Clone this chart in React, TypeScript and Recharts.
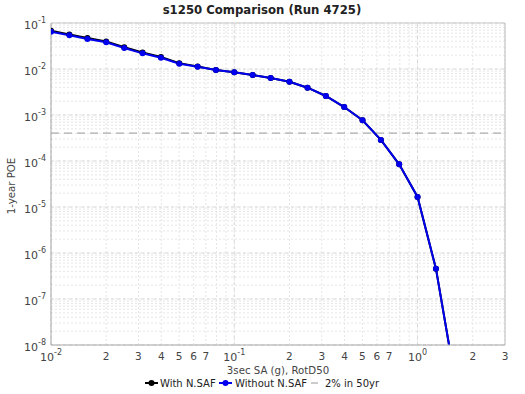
import React from 'react'
import { LineChart, Line, XAxis, YAxis, CartesianGrid, ReferenceLine } from 'recharts'

// 3sec SA (g) hazard curve abscissae
const saLevels = [
  0.01, 0.0126, 0.0158, 0.02, 0.0251, 0.0316, 0.0398, 0.0501, 0.0631, 0.0794,
  0.1, 0.126, 0.158, 0.2, 0.251, 0.316, 0.398, 0.501, 0.631, 0.794,
  1.0, 1.26, 1.58,
]

const withNsaf = [
  0.0675, 0.0565, 0.047, 0.0398, 0.0298, 0.0228, 0.0182, 0.0134, 0.0113, 0.0095,
  0.00848, 0.0074, 0.00637, 0.0053, 0.00392, 0.00259, 0.00149, 7.67e-4, 2.87e-4, 8.48e-5,
  1.65e-5, 4.56e-7, 2.4e-9,
]

const withoutNsaf = [
  0.0648, 0.054, 0.0449, 0.038, 0.0286, 0.0219, 0.0176, 0.013, 0.0112, 0.0095,
  0.00848, 0.0074, 0.00637, 0.0053, 0.00392, 0.00259, 0.00149, 7.67e-4, 2.87e-4, 8.48e-5,
  1.65e-5, 4.56e-7, 2.4e-9,
]

// 2% in 50yr POE level
const twoIn50 = 4.04e-4

const xTicks = [
  0.01, 0.02, 0.03, 0.04, 0.05, 0.06, 0.07, 0.08, 0.09,
  0.1, 0.2, 0.3, 0.4, 0.5, 0.6, 0.7, 0.8, 0.9,
  1, 2, 3,
]
const xDomain = [0.01, 3]
const yExponents = [-8, -7, -6, -5, -4, -3, -2, -1]
const yMultipliers = [1, 2, 3, 4, 5, 6, 7, 8, 9]

const yTicks: number[] = []
yExponents.forEach((e) => {
  if (e === -1) {
    yTicks.push(Math.pow(10, e))
    return
  }
  yMultipliers.forEach((m) => yTicks.push(m * Math.pow(10, e)))
})

const withData = saLevels.map((x, i) => ({ x, y: withNsaf[i] }))
const withoutData = saLevels.map((x, i) => ({ x, y: withoutNsaf[i] }))
const refData = xDomain.map((x) => ({ x, y: twoIn50 }))

const FONT = '"DejaVu Sans", Verdana, sans-serif'
const TICK_COLOR = '#444'

function decadeOf(v: number) {
  const e = Math.log10(v)
  const r = Math.round(e)
  return Math.abs(e - r) < 1e-6 ? r : null
}

function XTick(props: any) {
  const { x, y, payload } = props
  const v = payload.value
  const d = decadeOf(v)
  if (d !== null) {
    return (
      <text x={x} y={y + 16} textAnchor="middle" fontFamily={FONT} fontSize={11} fill={TICK_COLOR}>
        <tspan>10</tspan>
        <tspan dy={-6} fontSize={8}>{d}</tspan>
      </text>
    )
  }
  const m = Math.round(v / Math.pow(10, Math.floor(Math.log10(v) + 1e-9)))
  if (m > 7) return <g />
  return (
    <text x={x} y={y + 15} textAnchor="middle" fontFamily={FONT} fontSize={10.5} fill={TICK_COLOR}>
      {m}
    </text>
  )
}

function YTick(props: any) {
  const { x, y, payload } = props
  const d = decadeOf(payload.value)
  if (d === null) return <g />
  return (
    <text x={x - 5} y={y + 6} textAnchor="end" fontFamily={FONT} fontSize={11} fill={TICK_COLOR}>
      <tspan>10</tspan>
      <tspan dy={-6} fontSize={8}>{d}</tspan>
    </text>
  )
}

export default function App() {
  return (
    <div style={{ position: 'absolute', left: 0, top: 0, width: 525, height: 394, background: '#fff' }}>
      <LineChart width={525} height={394} margin={{ top: 23, right: 20, bottom: 19, left: 0 }}>
        <CartesianGrid stroke="#e6e6e6" strokeDasharray="2 2" />
        <XAxis
          dataKey="x"
          type="number"
          scale="log"
          domain={xDomain}
          ticks={xTicks}
          interval={0}
          allowDataOverflow
          tickLine={false}
          tickSize={0}
          tickMargin={0}
          height={30}
          tick={<XTick />}
          stroke="#aaa"
        />
        <YAxis
          dataKey="y"
          type="number"
          scale="log"
          domain={[1e-8, 1e-1]}
          ticks={yTicks}
          interval={0}
          allowDataOverflow
          tickLine={false}
          tickSize={0}
          tickMargin={0}
          width={51}
          tick={<YTick />}
          stroke="#aaa"
        />
        {[0.01, 0.1, 1].map((v) => (
          <ReferenceLine key={'vx' + v} x={v} stroke="#dadada" strokeDasharray="3 3" />
        ))}
        {yTicks.filter((v) => decadeOf(v) !== null).map((v) => (
          <ReferenceLine key={'hy' + v} y={v} stroke="#dadada" strokeDasharray="3 3" />
        ))}
        <ReferenceLine y={1e-1} stroke="#ccc" />
        <ReferenceLine x={3} stroke="#bbb" />
        <Line
          data={refData}
          dataKey="y"
          type="linear"
          stroke="#999"
          strokeWidth={1}
          strokeDasharray="8 5"
          dot={false}
          isAnimationActive={false}
        />
        <Line
          data={withData}
          dataKey="y"
          type="linear"
          stroke="#000"
          strokeWidth={2}
          dot={{ r: 3, fill: '#000', stroke: '#000', strokeWidth: 0 }}
          isAnimationActive={false}
        />
        <Line
          data={withoutData}
          dataKey="y"
          type="linear"
          stroke="#0000ee"
          strokeWidth={2}
          dot={{ r: 3, fill: '#0000ee', stroke: '#0000ee', strokeWidth: 0 }}
          isAnimationActive={false}
        />
      </LineChart>
      <svg
        width={525}
        height={394}
        style={{ position: 'absolute', left: 0, top: 0, pointerEvents: 'none' }}
        fontFamily={FONT}
      >
        <text x={262} y={14} textAnchor="middle" fontSize={11.7} fontWeight="bold" fill="#222">
          s1250 Comparison (Run 4725)
        </text>
        <text x={278} y={374} textAnchor="middle" fontSize={10.2} fill="#444">
          3sec SA (g), RotD50
        </text>
        <text
          x={0}
          y={0}
          transform="translate(15,186) rotate(-90)"
          textAnchor="middle"
          fontSize={10.2}
          fill="#444"
        >
          1-year POE
        </text>
        <g fontSize={10} fill="#222">
          <line x1={145} x2={158} y1={383} y2={383} stroke="#000" strokeWidth={2} />
          <circle cx={151.5} cy={383} r={3} fill="#000" />
          <text x={160} y={387}>With N.SAF</text>
          <line x1={219} x2={232} y1={383} y2={383} stroke="#0000ee" strokeWidth={2} />
          <circle cx={225.5} cy={383} r={3} fill="#0000ee" />
          <text x={235} y={387}>Without N.SAF</text>
          <line x1={311} x2={318} y1={383} y2={383} stroke="#999" strokeWidth={1} />
          <text x={325} y={387}>2% in 50yr</text>
        </g>
      </svg>
    </div>
  )
}
